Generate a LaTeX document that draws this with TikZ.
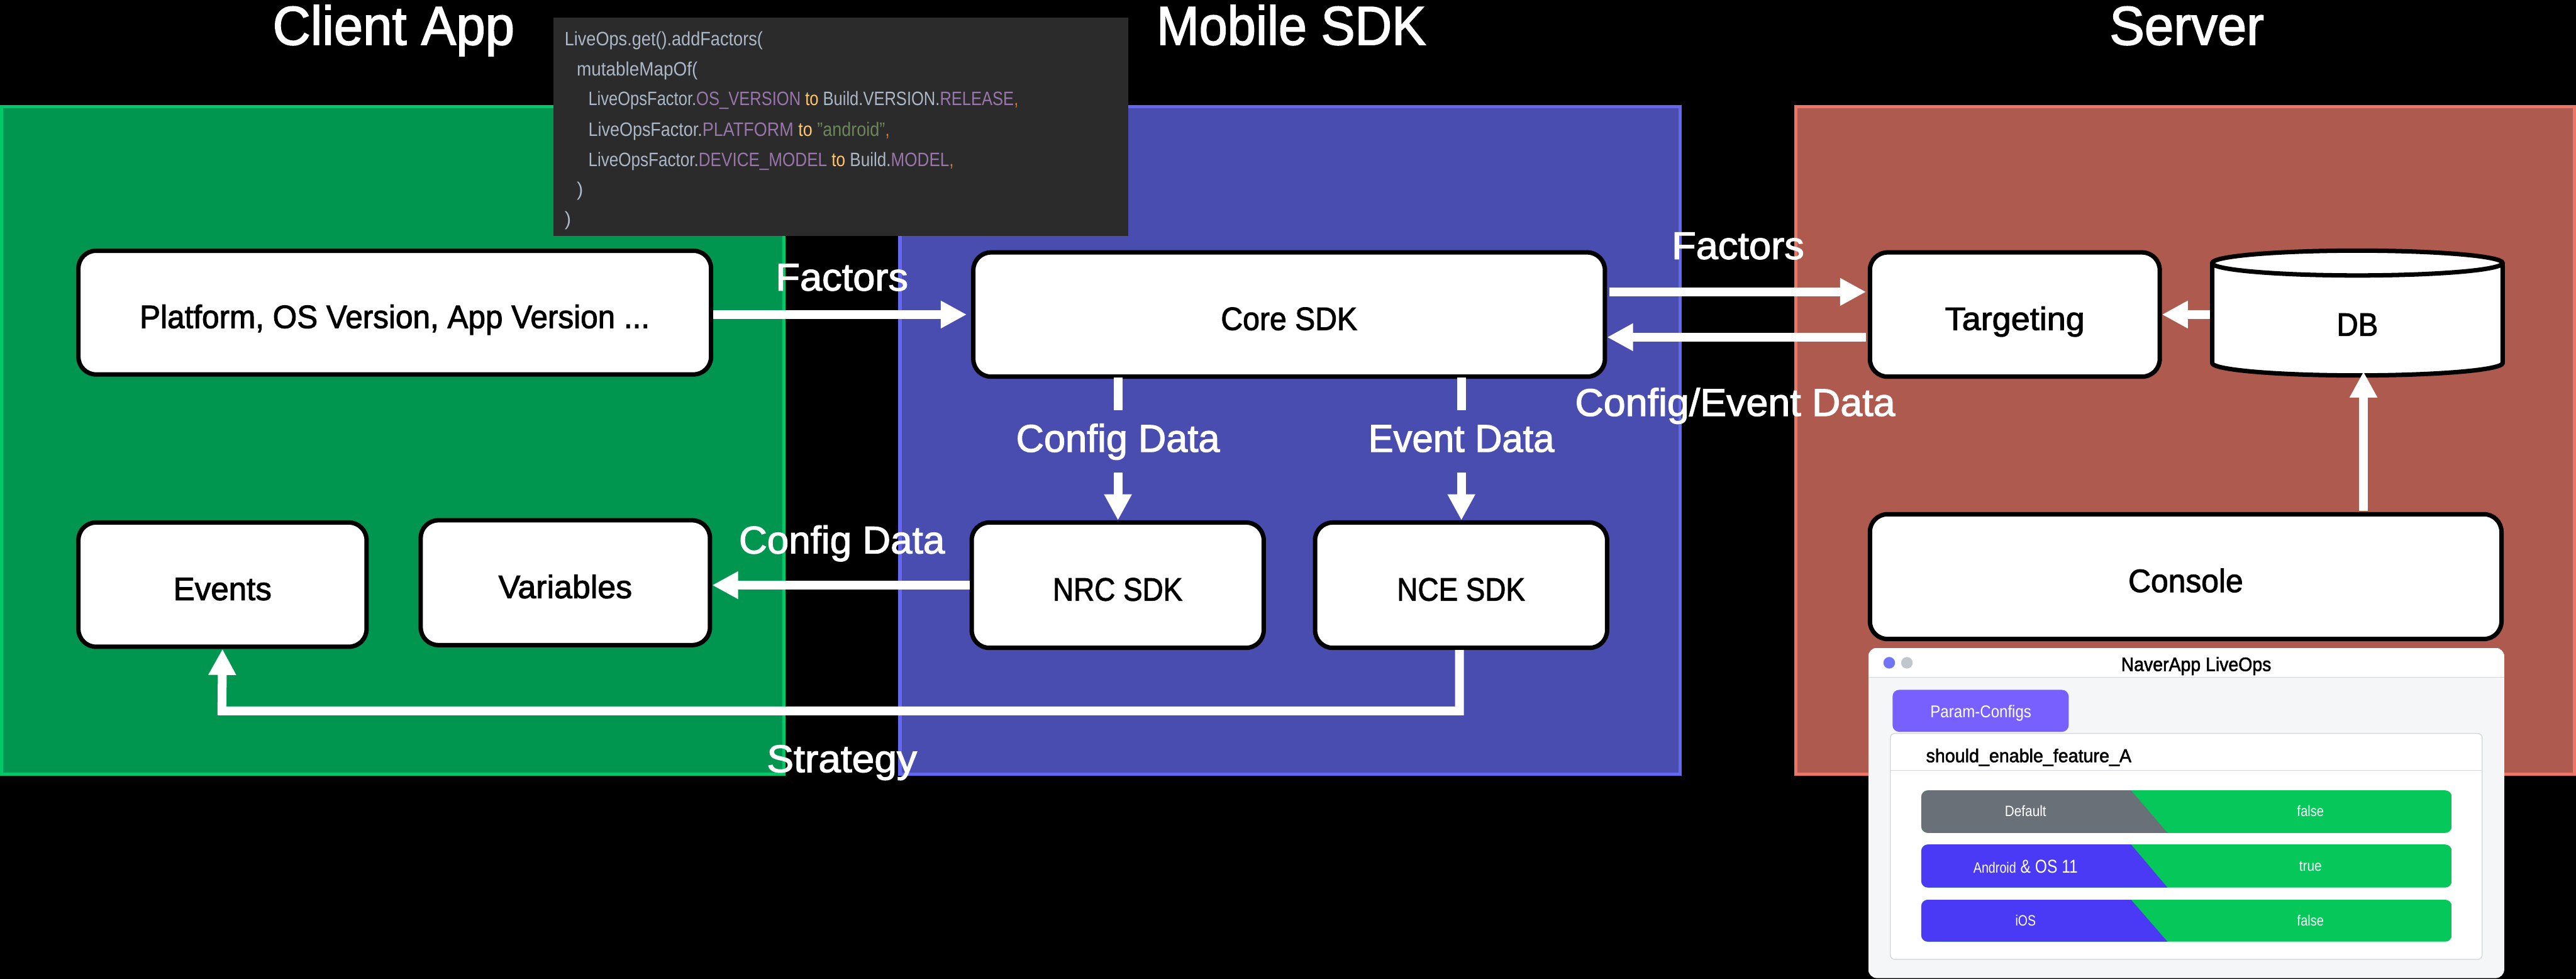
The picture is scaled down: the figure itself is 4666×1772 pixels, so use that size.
\documentclass[tikz,border=0pt]{standalone}
\usepackage{graphicx}
\usepackage{fontspec}
\setmainfont{Liberation Sans}
\newfontfamily\medfont[FakeBold=2]{Liberation Sans}
\usetikzlibrary{arrows.meta,calc,shapes.geometric}
\definecolor{gfill}{HTML}{00964F}
\definecolor{gline}{HTML}{00C96A}
\definecolor{bfill}{HTML}{4A4DB0}
\definecolor{bline}{HTML}{6468F0}
\definecolor{rfill}{HTML}{AE5A4E}
\definecolor{rline}{HTML}{EC7565}
\definecolor{codebg}{HTML}{2B2B2B}
\definecolor{cfg}{HTML}{A9B7C6}
\definecolor{cpu}{HTML}{9876AA}
\definecolor{cor}{HTML}{FFC66D}
\definecolor{cgr}{HTML}{6A8759}
\definecolor{cco}{HTML}{CC7832}
\definecolor{wbody}{HTML}{F5F6F8}
\definecolor{wline}{HTML}{D3D6DB}
\definecolor{dotb}{HTML}{7074F5}
\definecolor{dotg}{HTML}{BFC6CC}
\definecolor{tabc}{HTML}{7860FF}
\definecolor{rowgrey}{HTML}{6A7078}
\definecolor{rowgreen}{HTML}{05C75A}
\definecolor{rowblue}{HTML}{4A39F5}
% size in pt, width in mm, text: squeezed to the printed width
\newcommand\ft[3]{{\fontsize{#1pt}{#1pt}\selectfont\resizebox{#2mm}{\height}{#3}}}
\newcommand\ftm[3]{{\medfont\fontsize{#1pt}{#1pt}\selectfont\resizebox{#2mm}{\height}{#3}}}
\newcommand\fsz[2]{{\fontsize{#1pt}{#1pt}\selectfont #2}}
\tikzset{
  panelnode/.style={draw,line width=0.6mm,minimum height=120.9cm/10,inner sep=0},
  boxnode/.style={draw=black,fill=white,line width=0.8mm,rounded corners=3.2mm,inner sep=0,
    text height=7mm,text depth=1.4mm,text=black},
  arr/.style={draw=white,line width=1.6mm,-{Triangle[length=4.7mm,width=4.7mm,fill=white]}},
  seg/.style={draw=white,line width=1.6mm},
  txt/.style={inner sep=0,anchor=base},
  code/.style={inner sep=0,anchor=base west,text=cfg},
}
\begin{document}
\begin{tikzpicture}[x=0.1mm,y=-0.1mm]
\useasboundingbox (0,0) rectangle (4666,1772);
\fill[black] (0,0) rectangle (4666,1772);
% panels
\node[panelnode,draw=gline,fill=gfill,minimum width=141.7mm] (clientpanel) at (711.5,797.5) {};
\node[panelnode,draw=bline,fill=bfill,minimum width=141.3mm] (sdkpanel) at (2336.5,797.5) {};
\node[panelnode,draw=rline,fill=rfill,minimum width=141.0mm] (serverpanel) at (3958,797.5) {};
% titles
\node[txt,text=white] (t1) at (713,81) {\ftm{28.2}{43.8}{Client App}};
\node[txt,text=white] (t2) at (2339,81) {\ftm{28.2}{48.8}{Mobile SDK}};
\node[txt,text=white] (t3) at (3961,81) {\ftm{28.2}{28}{Server}};
% boxes
\node[boxnode,minimum width=114.6mm,minimum height=22.4mm] (platform) at (715,566) {\ftm{16.7}{92.4}{Platform, OS Version, App Version ...}};
\node[boxnode,minimum width=52.2mm,minimum height=22.5mm] (events) at (403,1058.5) {\ftm{16.7}{17.8}{Events}};
\node[boxnode,minimum width=52.4mm,minimum height=22.6mm] (variables) at (1024,1055) {\ftm{16.7}{24.2}{Variables}};
\node[boxnode,minimum width=114.4mm,minimum height=22.5mm] (core) at (2335,569.5) {\ftm{16.7}{24.7}{Core SDK}};
\node[boxnode,minimum width=52.9mm,minimum height=22.7mm] (nrc) at (2024.5,1059.5) {\ftm{16.7}{23.5}{NRC SDK}};
\node[boxnode,minimum width=52.9mm,minimum height=22.7mm] (nce) at (2646.5,1059.5) {\ftm{16.7}{23.2}{NCE SDK}};
\node[boxnode,minimum width=52.5mm,minimum height=22.5mm] (targeting) at (3649.5,569.5) {\ftm{16.7}{25.3}{Targeting}};
\node[boxnode,minimum width=114.4mm,minimum height=22.6mm] (console) at (3959,1044) {\ftm{16.7}{20.8}{Console}};
\node[draw=black,fill=white,line width=0.8mm,cylinder,shape border rotate=90,shape aspect=0.6,inner sep=0,
  minimum width=52.6mm,minimum height=22.6mm,text=black] (db) at (4270,580) {\smash{\raisebox{-2.8mm}{\ftm{16.7}{7.5}{DB}}}};
% labels
\node[txt,text=white] (lf1) at (1525,526) {\ftm{19.9}{24}{Factors}};
\node[txt,text=white] (lc1) at (1525,1002) {\ftm{19.9}{37.3}{Config Data}};
\node[txt,text=white] (ls1) at (1525,1398) {\ftm{19.9}{27.2}{Strategy}};
\node[txt,text=white] (lf2) at (3148,469) {\ftm{19.9}{24}{Factors}};
\node[txt,text=white] (lc2) at (3143,753) {\ftm{19.9}{58}{Config/Event Data}};
\node[inner sep=0,text=white,text height=7.5mm,text depth=3.7mm] (lcfg) at (2025,799) {\ftm{19.9}{36.9}{Config Data}};
\node[inner sep=0,text=white,text height=7.5mm,text depth=3.7mm] (levt) at (2647,799) {\ftm{19.9}{33.7}{Event Data}};
% connectors
\coordinate (stratc) at (402,1287);
\draw[arr,shorten >=0.8mm] (platform.east |- core.west) -- (core.west);
\draw[arr] (nrc.west) -- (variables.east |- nrc.west);
\draw[seg] (core.south -| lcfg.north) ++(0,-3) -- (lcfg.north);
\draw[seg] (core.south -| levt.north) ++(0,-3) -- (levt.north);
\draw[arr] (lcfg.south) -- (nrc.north -| lcfg.south);
\draw[arr] (levt.south) -- (nce.north -| levt.south);
\draw[arr,shorten >=0.3mm] ($(core.east)+(4,-41)$) -- ($(targeting.west)+(0,-41)$);
\draw[arr,shorten <=0.3mm] ($(targeting.west)+(0,41)$) -- ($(core.east)+(0,41)$);
\draw[arr] (db.west |- targeting.east) -- (targeting.east);
\draw[arr] ($(console.north)+(322,-2)$) -- ($(db.south)+(11,-11)$);
\draw[arr] ($(nce.south)+(-3,0)$) |- (stratc) -- (events.south);
% code panel
\node[fill=codebg,inner sep=0,minimum width=104.2mm,minimum height=39.5mm] (codebox) at (1523,229.5) {};
\node[code] (c1) at (1022,83) {\ft{10}{35.9}{LiveOps.get().addFactors(}};
\node[code] (c2) at (1044,137) {\ft{10}{21.9}{mutableMapOf(}};
\node[code] (c3) at (1065,191) {\ft{10}{77.9}{LiveOpsFactor.\textcolor{cpu}{OS\_VERSION} \textcolor{cor}{to} Build.VERSION.\textcolor{cpu}{RELEASE}\textcolor{cco}{,}}};
\node[code] (c4) at (1065,247) {\ft{10}{54.6}{LiveOpsFactor.\textcolor{cpu}{PLATFORM} \textcolor{cor}{to} \textcolor{cgr}{"android"}\textcolor{cco}{,}}};
\node[code] (c5) at (1065,301) {\ft{10}{66.2}{LiveOpsFactor.\textcolor{cpu}{DEVICE\_MODEL} \textcolor{cor}{to} Build.\textcolor{cpu}{MODEL}\textcolor{cco}{,}}};
\node[code] (c6) at (1044,355) {\fsz{10}{)}};
\node[code] (c7) at (1022,408) {\fsz{10}{)}};
% console window
\begin{scope}
  \clip[rounded corners=1.6mm] (3384,1173) rectangle (4536,1771);
  \fill[wbody] (3384,1173) rectangle (4536,1771);
  \fill[white] (3384,1173) rectangle (4536,1226);
\end{scope}
\draw[wline,line width=0.15mm] (3384,1226) -- (4536,1226);
\fill[dotb] (3422,1200) ellipse (10.5 and 10.5);
\fill[dotg] (3454,1200) ellipse (10.5 and 10.5);
\node[txt,text=black] (wt) at (3978,1215) {\ftm{10}{27.2}{NaverApp LiveOps}};
\fill[tabc,rounded corners=1.2mm] (3428,1249) rectangle (3747,1325);
\node[txt,text=white] (wtab) at (3588,1299) {\ft{8.8}{18.3}{Param-Configs}};
\draw[wline,fill=white,line width=0.15mm,rounded corners=0.8mm] (3424,1328) rectangle (4496,1737);
\draw[wline,line width=0.15mm] (3424,1395) -- (4496,1395);
\node[inner sep=0,anchor=base west,text=black] (wcard) at (3488,1380) {\ftm{9.6}{37.2}{should\_enable\_feature\_A}};
\begin{scope}
  \clip[rounded corners=1.2mm] (3480,1431) rectangle (4441,1508);
  \fill[rowgreen] (3480,1431) rectangle (4441,1508);
  \fill[rowgrey] (3480,1431) -- (3860,1431) -- (3926,1508) -- (3480,1508) -- cycle;
\end{scope}
\begin{scope}
  \clip[rounded corners=1.2mm] (3480,1529) rectangle (4441,1607);
  \fill[rowgreen] (3480,1529) rectangle (4441,1607);
  \fill[rowblue] (3480,1529) -- (3860,1529) -- (3926,1607) -- (3480,1607) -- cycle;
\end{scope}
\begin{scope}
  \clip[rounded corners=1.2mm] (3480,1629) rectangle (4441,1705);
  \fill[rowgreen] (3480,1629) rectangle (4441,1705);
  \fill[rowblue] (3480,1629) -- (3860,1629) -- (3926,1705) -- (3480,1705) -- cycle;
\end{scope}
\node[txt,text=white] (r1a) at (3669,1478) {\ft{7.7}{7.5}{Default}};
\node[txt,text=white] (r1b) at (4185,1478) {\ft{7.7}{4.8}{false}};
\node[txt,text=white] (r2a) at (3669,1581) {\ft{9.6}{18.9}{\fsz{7.7}{Android} \& OS 11}};
\node[txt,text=white] (r2b) at (4185,1577) {\ft{7.7}{4.1}{true}};
\node[txt,text=white] (r3a) at (3669,1676) {\ft{7.7}{3.7}{iOS}};
\node[txt,text=white] (r3b) at (4185,1676) {\ft{7.7}{4.8}{false}};
\end{tikzpicture}
\end{document}
